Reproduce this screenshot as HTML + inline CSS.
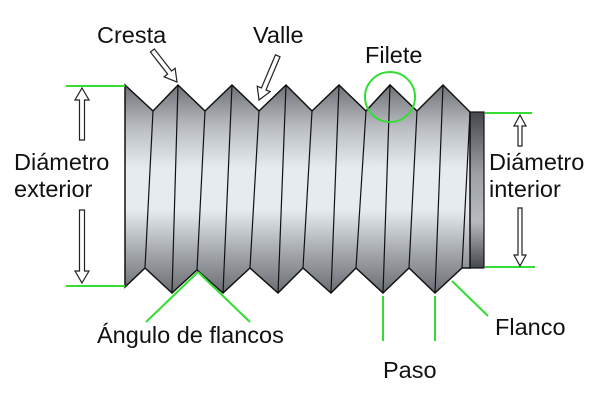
<!DOCTYPE html>
<html><head><meta charset="utf-8"><style>
html,body{margin:0;padding:0;background:#fff;width:600px;height:400px;overflow:hidden}
svg text{font-family:"Liberation Sans",sans-serif;fill:#111}
</style></head><body>
<svg width="600" height="400" viewBox="0 0 600 400" xmlns="http://www.w3.org/2000/svg">
<defs>
<linearGradient id="g" x1="0" y1="0" x2="0" y2="1">
<stop offset="0" stop-color="#6e7277"/>
<stop offset="0.2" stop-color="#b8bcc1"/>
<stop offset="0.4" stop-color="#e6ebef"/>
<stop offset="0.6" stop-color="#e6ebef"/>
<stop offset="0.82" stop-color="#9fa3a8"/>
<stop offset="1" stop-color="#6a6e73"/>
</linearGradient>
<linearGradient id="gd" x1="0" y1="0" x2="0" y2="1">
<stop offset="0" stop-color="#44484d"/>
<stop offset="0.4" stop-color="#9ea2a7"/>
<stop offset="0.7" stop-color="#b7bbc0"/>
<stop offset="1" stop-color="#44484d"/>
</linearGradient>
</defs>
<rect x="468" y="112" width="16" height="156" fill="url(#gd)" stroke="#111" stroke-width="1.2"/>
<path d="M125,85 L153,111 L178,85 L205,111 L232,85 L259,111 L286,85 L312,111 L339,85 L366,111 L390,85 L417,111 L443,85 L470,112 L470,268 L462,268 L435,293 L409,268 L383,293 L356,268 L331,293 L303,268 L278,293 L250,268 L223,293 L197,270 L172,293 L145,268 L125,287 Z" fill="url(#g)" stroke="#111" stroke-width="1.5"/>
<g stroke="#111" stroke-width="1.2" fill="none">
<path d="M153,111 L145,268 M178,85 L172,293 M205,111 L197,270 M232,85 L223,293 M259,111 L250,268 M286,85 L278,293 M312,111 L303,268 M339,85 L331,293 M366,111 L356,268 M390,85 L383,293 M417,111 L409,268 M443,85 L435,293 M470,112 L462,268"/>
</g>
<g stroke="#33dd33" stroke-width="2" fill="none">
<line x1="66" y1="86" x2="125" y2="86"/>
<line x1="66" y1="286" x2="125" y2="286"/>
<line x1="485" y1="113" x2="532" y2="113"/>
<line x1="485" y1="267" x2="535" y2="267"/>
<circle cx="390" cy="97" r="25"/>
<line x1="198" y1="272" x2="146" y2="322"/>
<line x1="198" y1="272" x2="250" y2="322"/>
<line x1="383" y1="296" x2="383" y2="341"/>
<line x1="435" y1="296" x2="435" y2="341"/>
<line x1="452" y1="281" x2="488" y2="316"/>
</g>
<g fill="#fff" stroke="#222" stroke-width="1.2">
<polygon points="82,88 89,100 84.5,100 84.5,140 79.5,140 79.5,100 75,100"/>
<polygon points="82,283 89,271 84.5,271 84.5,210 79.5,210 79.5,271 75,271"/>
<polygon points="520,115 526,126 522,126 522,146 518,146 518,126 514,126"/>
<polygon points="520,266 526,255 522,255 522,208 518,208 518,255 514,255"/>
<polygon points="0,0 -12,-7 -12,-2.5 -40,-2.5 -40,2.5 -12,2.5 -12,7" transform="translate(177,82) rotate(52)"/>
<polygon points="0,0 -12,-7 -12,-2.5 -48,-2.5 -48,2.5 -12,2.5 -12,7" transform="translate(259,100) rotate(113)"/>
</g>
<g font-size="23.5">
<text x="97" y="43">Cresta</text>
<text x="253" y="43">Valle</text>
<text x="365" y="63">Filete</text>
<text x="14" y="170">Diámetro</text>
<text x="14" y="197">exterior</text>
<text x="489" y="170">Diámetro</text>
<text x="489" y="197">interior</text>
<text x="97" y="343">Ángulo de flancos</text>
<text x="383" y="378">Paso</text>
<text x="495" y="335">Flanco</text>
</g>
</svg>
</body></html>
